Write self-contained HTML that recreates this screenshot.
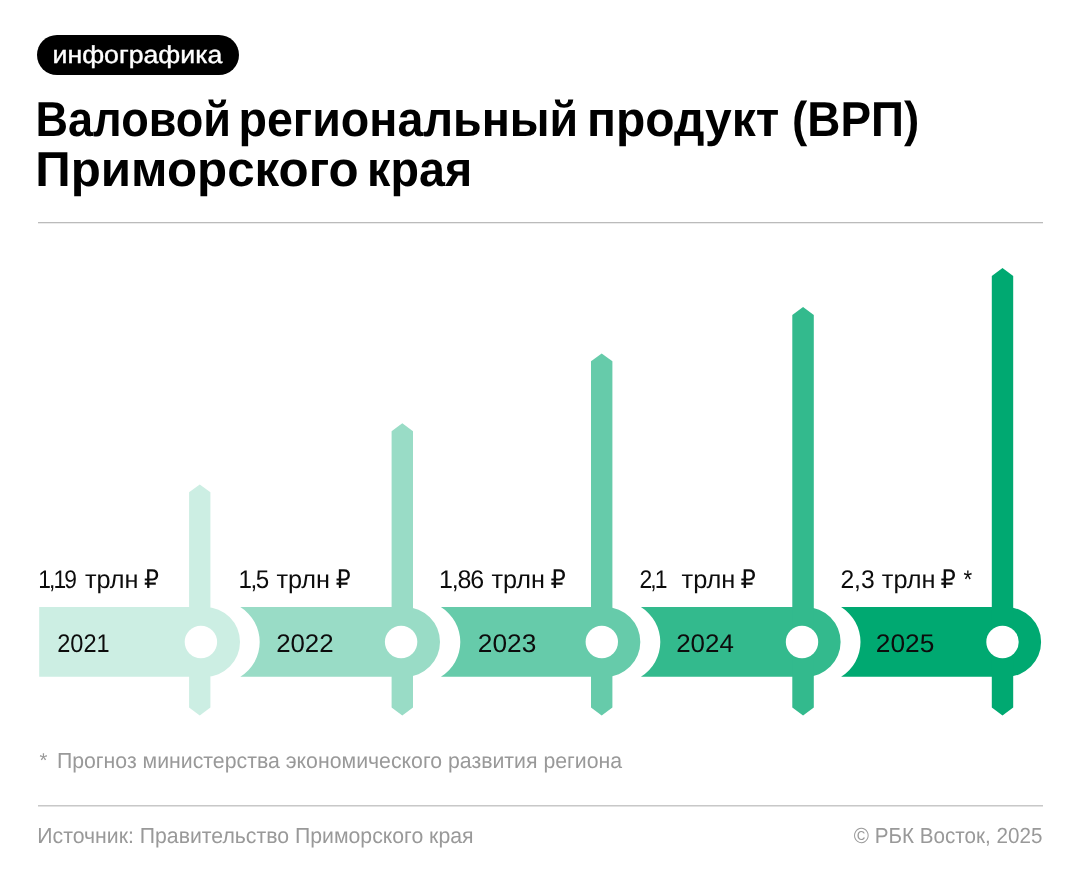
<!DOCTYPE html>
<html lang="ru">
<head>
<meta charset="utf-8">
<title>Валовой региональный продукт (ВРП) Приморского края</title>
<style>
  html, body { margin: 0; padding: 0; background: #ffffff; }
  body {
    width: 1081px; height: 889px; position: relative; overflow: hidden;
    font-family: "Liberation Sans", "DejaVu Sans", sans-serif;
    text-rendering: geometricPrecision;
  }
  .tx { position: absolute; left: 0; margin: 0; white-space: nowrap; line-height: 1; height: 1em; width: 1081px; }
  .tx span { position: absolute; left: 0; top: 0; white-space: nowrap; transform-origin: 0 50%; }
  .tag { position: absolute; left: 36.8px; top: 35px; width: 201.8px; height: 39.8px; border-radius: 20px; background: #000000; }
  .rule { position: absolute; left: 38px; width: 1005px; height: 1px; }
  svg { position: absolute; left: 0; top: 0; }
</style>
</head>
<body>

<div class="tag"></div>
<div class="tx" id="tag" style="top:44px;font-size:24.6px;font-weight:400;color:#ffffff;-webkit-text-stroke:0.4px #ffffff;"><span id="tag_0" style="transform:translateX(52.53px) scaleX(1.0845);">инфографика</span></div>

<h1 class="tx" id="t1" style="top:96px;font-size:49.1px;font-weight:700;color:#000000;"><span id="t1_0" style="transform:translateX(35.52px) scaleX(0.9178);">Валовой</span> <span id="t1_1" style="transform:translateX(238.41px) scaleX(0.9493);">региональный</span> <span id="t1_2" style="transform:translateX(587.03px) scaleX(0.9771);">продукт</span> <span id="t1_3" style="transform:translateX(792.06px) scaleX(0.9333);">(ВРП)</span></h1>
<h1 class="tx" id="t2" style="top:146px;font-size:49.1px;font-weight:700;color:#000000;"><span id="t2_0" style="transform:translateX(35.24px) scaleX(1.0043);">Приморского</span> <span id="t2_1" style="transform:translateX(367.12px) scaleX(0.9499);">края</span></h1>

<div class="rule" style="top:222px;background:#bbbbbb;box-shadow:0 1px 0 #ebebeb"></div>

<svg width="1081" height="889" viewBox="0 0 1081 889">
  <g fill="#cceee3"><!-- 2021 -->
    <path d="M39.2 607.1 H205.15 A34.85 34.85 0 0 1 205.15 676.8 H39.2 Z"/>
    <path d="M189.1 492.2 L199.75 484.4 L210.4 492.2 V707.4 L199.75 715.6 L189.1 707.4 Z"/>
  </g>
  <g fill="#99dcc6"><!-- 2022 -->
    <path d="M240.3 607.1 H405.15 A34.85 34.85 0 0 1 405.15 676.8 H240.3 A41 41 0 0 0 240.3 607.1 Z"/>
    <path d="M391.6 431.3 L402.30 423.3 L413.0 431.3 V707.4 L402.30 715.6 L391.6 707.4 Z"/>
  </g>
  <g fill="#66cbaa"><!-- 2023 -->
    <path d="M440.9 607.1 H605.45 A34.85 34.85 0 0 1 605.45 676.8 H440.9 A41 41 0 0 0 440.9 607.1 Z"/>
    <path d="M591.0 361.2 L601.70 353.5 L612.4 361.2 V707.4 L601.70 715.6 L591.0 707.4 Z"/>
  </g>
  <g fill="#33ba8d"><!-- 2024 -->
    <path d="M640.9 607.1 H805.75 A34.85 34.85 0 0 1 805.75 676.8 H640.9 A41 41 0 0 0 640.9 607.1 Z"/>
    <path d="M792.3 314.9 L803.05 306.9 L813.8 314.9 V707.4 L803.05 715.6 L792.3 707.4 Z"/>
  </g>
  <g fill="#00a971"><!-- 2025 -->
    <path d="M841.1 607.1 H1006.25 A34.85 34.85 0 0 1 1006.25 676.8 H841.1 A41 41 0 0 0 841.1 607.1 Z"/>
    <path d="M991.8 276.0 L1002.50 268.0 L1013.2 276.0 V707.4 L1002.50 715.6 L991.8 707.4 Z"/>
  </g>
  <g fill="#ffffff">
    <circle cx="200.9" cy="642" r="16.2"/>
    <circle cx="401.1" cy="642" r="16.2"/>
    <circle cx="601.8" cy="642" r="16.2"/>
    <circle cx="802.0" cy="642" r="16.2"/>
    <circle cx="1002.5" cy="642" r="16.2"/>
  </g>
</svg>

<div class="tx" id="v1" style="top:568px;font-size:25.6px;font-weight:400;color:#0c0c0c;"><span id="v1_0" style="transform:translateX(38.22px) scaleX(0.8907);letter-spacing:-2.1px;">1,19</span> <span id="v1_1" style="transform:translateX(84.90px) scaleX(0.9875);">трлн</span> <span id="v1_2" style="transform:translateX(144.01px) scaleX(0.9208);">₽</span></div>
<div class="tx" id="v2" style="top:568px;font-size:25.6px;font-weight:400;color:#0c0c0c;"><span id="v2_0" style="transform:translateX(238.50px) scaleX(0.9454);letter-spacing:-1.6px;">1,5</span> <span id="v2_1" style="transform:translateX(276.51px) scaleX(0.9884);">трлн</span> <span id="v2_2" style="transform:translateX(335.87px) scaleX(0.9175);">₽</span></div>
<div class="tx" id="v3" style="top:568px;font-size:25.6px;font-weight:400;color:#0c0c0c;"><span id="v3_0" style="transform:translateX(438.95px) scaleX(0.9756);letter-spacing:-1.2px;">1,86</span> <span id="v3_1" style="transform:translateX(491.45px) scaleX(0.9875);">трлн</span> <span id="v3_2" style="transform:translateX(550.39px) scaleX(0.9418);">₽</span></div>
<div class="tx" id="v4" style="top:568px;font-size:25.6px;font-weight:400;color:#0c0c0c;"><span id="v4_0" style="transform:translateX(639.52px) scaleX(0.8958);letter-spacing:-2.2px;">2,1</span> <span id="v4_1" style="transform:translateX(681.50px) scaleX(0.9942);">трлн</span> <span id="v4_2" style="transform:translateX(740.39px) scaleX(0.9418);">₽</span></div>
<div class="tx" id="v5" style="top:568px;font-size:25.6px;font-weight:400;color:#0c0c0c;"><span id="v5_0" style="transform:translateX(840.40px) scaleX(0.9640);">2,3</span> <span id="v5_1" style="transform:translateX(881.80px) scaleX(0.9904);">трлн</span> <span id="v5_2" style="transform:translateX(940.39px) scaleX(0.9418);">₽</span> <span id="v5_3" style="transform:translateX(963.56px) scaleX(0.8673);">*</span></div>

<div class="tx" id="y1" style="top:632px;font-size:25.6px;font-weight:400;color:#0c0c0c;"><span id="y1_0" style="transform:translateX(57.25px) scaleX(0.9211);">2021</span></div>
<div class="tx" id="y2" style="top:632px;font-size:25.6px;font-weight:400;color:#0c0c0c;"><span id="y2_0" style="transform:translateX(276.14px) scaleX(1.0092);">2022</span></div>
<div class="tx" id="y3" style="top:632px;font-size:25.6px;font-weight:400;color:#0c0c0c;"><span id="y3_0" style="transform:translateX(477.87px) scaleX(1.0257);">2023</span></div>
<div class="tx" id="y4" style="top:632px;font-size:25.6px;font-weight:400;color:#0c0c0c;"><span id="y4_0" style="transform:translateX(676.18px) scaleX(1.0128);">2024</span></div>
<div class="tx" id="y5" style="top:632px;font-size:25.6px;font-weight:400;color:#0c0c0c;"><span id="y5_0" style="transform:translateX(875.87px) scaleX(1.0274);">2025</span></div>

<div class="tx" id="star" style="top:751px;font-size:20px;font-weight:400;color:#999999;"><span id="star_0" style="transform:translateX(39.48px) scaleX(1.0084);">*</span></div>
<div class="tx" id="foot" style="top:750px;font-size:21.8px;font-weight:400;color:#999999;"><span id="foot_0" style="transform:translateX(56.89px) scaleX(0.9759);">Прогноз министерства экономического развития региона</span></div>

<div class="rule" style="top:805px;background:#c8c8c8;box-shadow:0 1px 0 #e2e2e2"></div>

<div class="tx" id="src" style="top:825px;font-size:21.8px;font-weight:400;color:#999999;"><span id="src_0" style="transform:translateX(37.25px) scaleX(0.9746);">Источник: Правительство Приморского края</span></div>
<div class="tx" id="copy" style="top:825px;font-size:21.8px;font-weight:400;color:#999999;"><span id="copy_0" style="transform:translateX(853.87px) scaleX(0.9460);">© РБК Восток, 2025</span></div>

</body>
</html>
